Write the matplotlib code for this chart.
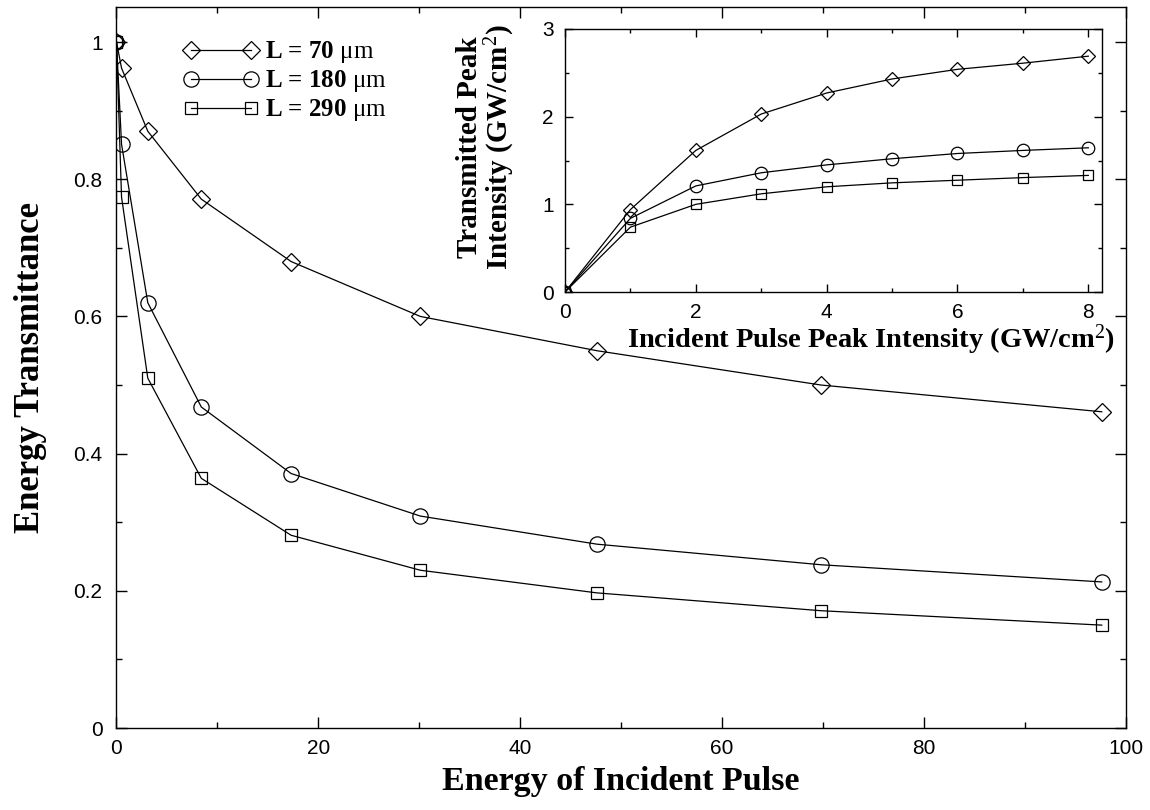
import numpy as np
import matplotlib
matplotlib.use('Agg')
import matplotlib.pyplot as plt
from matplotlib.ticker import MultipleLocator

plt.rcParams.update({
    'font.family': 'sans-serif', 'font.sans-serif': ['Liberation Sans', 'DejaVu Sans'],
    'mathtext.fontset': 'custom', 'mathtext.rm': 'Liberation Serif',
    'mathtext.bf': 'Liberation Serif:bold', 'mathtext.it': 'Liberation Serif:italic',
    'axes.linewidth': 1.0,
})

# main panel: energy transmittance vs incident energy
energy = [0, 0.5, 3.1, 8.4, 17.3, 30.1, 47.6, 69.8, 97.6]
trans_70 = [1.0, 0.962, 0.870, 0.771, 0.680, 0.600, 0.550, 0.500, 0.461]
trans_180 = [1.0, 0.851, 0.620, 0.468, 0.371, 0.309, 0.268, 0.238, 0.213]
trans_290 = [1.0, 0.774, 0.510, 0.364, 0.281, 0.230, 0.197, 0.171, 0.150]

# inset: transmitted vs incident peak intensity
intensity = [0, 1, 2, 3, 4, 5, 6, 7, 8]
peak_70 = [0, 0.94, 1.615, 2.03, 2.27, 2.43, 2.54, 2.61, 2.69]
peak_180 = [0, 0.84, 1.21, 1.36, 1.45, 1.52, 1.58, 1.615, 1.645]
peak_290 = [0, 0.74, 1.00, 1.12, 1.20, 1.245, 1.275, 1.305, 1.33]

labels = [r'L = 70 $\mathrm{\mu m}$',
          r'L = 180 $\mathrm{\mu m}$',
          r'L = 290 $\mathrm{\mu m}$']
markers = ['D', 'o', 's']
main_ms = [9, 11, 9]
inset_ms = [7.5, 9, 7.5]

serif_bold = dict(family='Liberation Serif', weight='bold')


def style_ticks(ax):
    ax.tick_params(which='both', direction='in', top=True, right=True, labelsize=15)
    ax.tick_params(which='major', length=8, width=1.0)
    ax.tick_params(which='minor', length=4, width=1.0)


fig = plt.figure(figsize=(11.5, 8.1), dpi=100)
ax = fig.add_axes([0.1013, 0.1012, 0.8778, 0.8901])

for ys, mk, ms, lab in zip([trans_70, trans_180, trans_290], markers, main_ms, labels):
    ax.plot(energy, ys, color='black', lw=0.9, marker=mk, ms=ms,
            markerfacecolor='none', markeredgecolor='black', markeredgewidth=0.9, label=lab)

ax.set_xlim(0, 100)
ax.set_ylim(0, 1.051)
ax.xaxis.set_major_locator(MultipleLocator(20))
ax.xaxis.set_minor_locator(MultipleLocator(10))
ax.yaxis.set_major_locator(MultipleLocator(0.2))
ax.yaxis.set_minor_locator(MultipleLocator(0.1))
ax.set_yticks([0, 0.2, 0.4, 0.6, 0.8, 1.0], ['0', '0.2', '0.4', '0.6', '0.8', '1'])
style_ticks(ax)
ax.tick_params(axis='x', pad=8)
ax.tick_params(axis='y', pad=10)

ax.set_xlabel('Energy of Incident Pulse', fontsize=24.5, **serif_bold)
ax.xaxis.set_label_coords(0.5, -0.052)
ax.set_ylabel('Energy Transmittance', fontsize=25, **serif_bold)
ax.yaxis.set_label_coords(-0.069, 0.5)

ax.legend(loc='upper left', bbox_to_anchor=(0.0665, 0.955), frameon=False, numpoints=2,
          handlelength=3.0, handletextpad=0.25, labelspacing=0.12, borderpad=0,
          borderaxespad=0, prop={'family': 'Liberation Serif', 'weight': 'bold', 'size': 18})

# inset
ins = fig.add_axes([0.4913, 0.6395, 0.4670, 0.3247])
for ys, mk, ms in zip([peak_70, peak_180, peak_290], markers, inset_ms):
    ins.plot(intensity, ys, color='black', lw=0.9, marker=mk, ms=ms,
             markerfacecolor='none', markeredgecolor='black', markeredgewidth=0.9)
ins.set_xlim(0, 8.21)
ins.set_ylim(0, 3)
ins.xaxis.set_major_locator(MultipleLocator(2))
ins.xaxis.set_minor_locator(MultipleLocator(1))
ins.yaxis.set_major_locator(MultipleLocator(1))
ins.yaxis.set_minor_locator(MultipleLocator(0.5))
style_ticks(ins)
ins.tick_params(which='major', length=6)
ins.tick_params(which='minor', length=3)
ins.tick_params(axis='x', pad=8)
ins.tick_params(axis='y', pad=8)
ins.set_xlabel('Incident Pulse Peak Intensity (GW/cm$^2$)', fontsize=20.5, **serif_bold)
ins.xaxis.set_label_coords(0.57, -0.115)
ins.set_ylabel('Transmitted Peak\nIntensity (GW/cm$^2$)', fontsize=21,
               linespacing=1.0, **serif_bold)
ins.yaxis.set_label_coords(-0.09, 0.55)

fig.savefig('out.png', dpi=100)
